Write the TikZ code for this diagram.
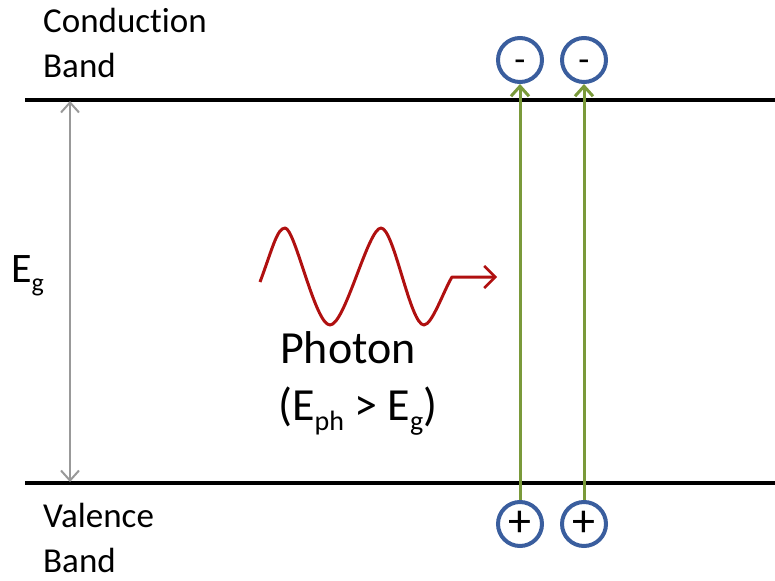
\documentclass[tikz,border=0pt]{standalone}
\usepackage{fontspec}
\setmainfont[Ligatures={NoCommon}]{Carlito}
\usetikzlibrary{arrows.meta}
\definecolor{bandblack}{HTML}{000000}
\definecolor{gaparrow}{HTML}{999999}
\definecolor{photonred}{HTML}{B01010}
\definecolor{transgreen}{HTML}{7A9A3A}
\definecolor{carrierblue}{HTML}{3A5E9E}
\newcommand{\sbsc}[2]{\raisebox{-0.22em}{\fontsize{#1}{#1}\selectfont #2}}
\tikzset{
  band/.style={line width=4pt, bandblack},
  lbl/.style={font=\fontsize{35}{45}\selectfont, align=left, anchor=base west, inner sep=0pt},
  big/.style={font=\fontsize{46}{58}\selectfont, inner sep=0pt},
  carrier/.style={circle, draw=carrierblue, line width=4pt, minimum size=44pt, inner sep=0pt},
  electron/.style={carrier, font=\fontsize{36}{36}\selectfont, text height=24pt, text depth=0pt},
  hole/.style={carrier, font=\fontsize{46}{46}\selectfont},
  trans/.style={transgreen, line width=3pt, -{Straight Barb[length=10pt,width=18pt,line width=3pt]}},
  gap/.style={gaparrow, line width=2.5pt, {Straight Barb[length=10pt,width=18pt,line width=2pt]}-{Straight Barb[length=10pt,width=18pt,line width=2pt]}},
  photon/.style={photonred, line width=3pt, line join=round, -{Straight Barb[length=11pt,width=22pt,line width=2.5pt]}}
}
\begin{document}
\begin{tikzpicture}[x=1pt,y=-1pt]
\useasboundingbox (0,0) rectangle (775,580);
% bands
\coordinate (cbL) at (25,100); \coordinate (cbR) at (775,100);
\coordinate (vbL) at (25,483); \coordinate (vbR) at (775,483);
\draw[band] (cbL) -- (cbR);
\draw[band] (vbL) -- (vbR);
% labels
\node[lbl] (cbt) at (43,33) {Conduction};
\node[lbl] (cbt2) at (43,78) {Band};
\node[lbl] (vbt) at (43,527) {Valence};
\node[lbl] (vbt2) at (43,572) {Band};
% gap arrow
\coordinate (gtop) at (70,101);
\coordinate (gbot) at (70,482);
\draw[gap] (gtop) -- (gbot);
\node[inner sep=0pt, font=\fontsize{42}{50}\selectfont, anchor=base west] (eg) at (11,282) {E\sbsc{26}{g}};
% carriers
\node[electron] (e1) at (520,60) {-};
\node[electron] (e2) at (584,60) {-};
\node[hole] (h1) at (520,524) {+};
\node[hole] (h2) at (584,524) {+};
\draw[trans] (h1.north) -- (e1.south);
\draw[trans] (h2.north) -- (e2.south);
% photon
\coordinate (p0) at (260,282);
\coordinate (pend) at (452,277);
\coordinate (ptip) at (497,277);
\draw[photon] (p0) .. controls (272,250) and (277,228) .. (285,228)
  .. controls (295,228) and (315,325) .. (330,325)
  .. controls (345,325) and (368,228) .. (381,228)
  .. controls (394,228) and (410,325) .. (424,325)
  .. controls (432,325) and (444,290) .. (pend) -- (ptip);
\node[big, anchor=base west] (ph) at (280,363) {Photon};
\node[big, anchor=base west] (phc) at (278,420) {(E\sbsc{28}{ph} > E\sbsc{28}{g})};
\end{tikzpicture}
\end{document}
